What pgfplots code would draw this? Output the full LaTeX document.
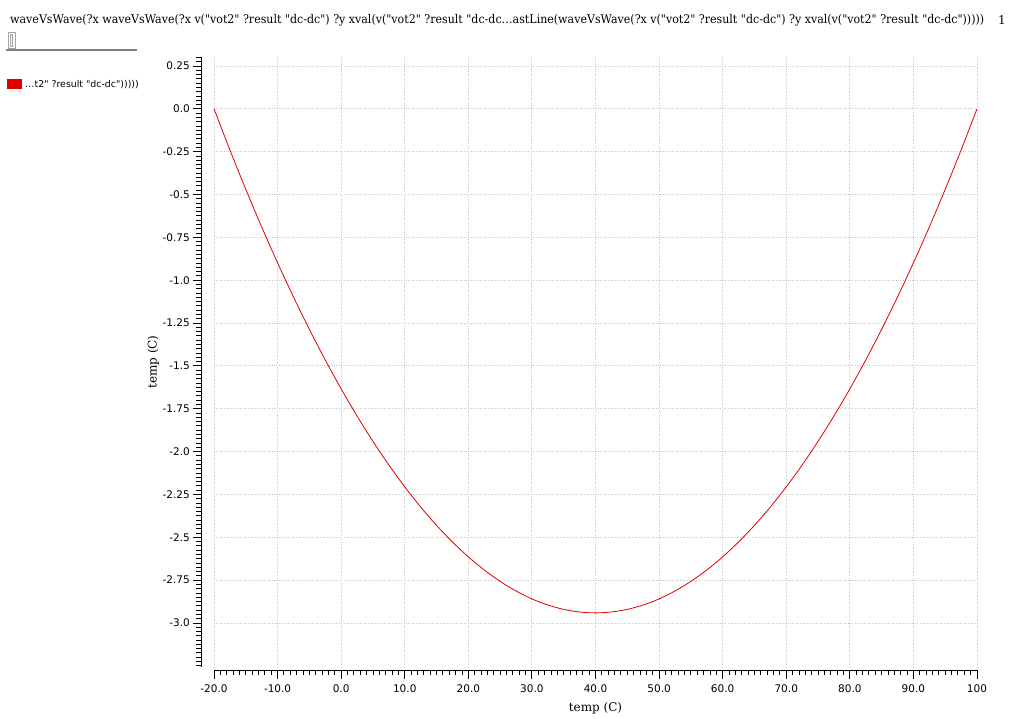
\documentclass[border=0pt]{standalone}
\usepackage{pgfplots}
\pgfplotsset{compat=1.18}
\usepackage{fontspec}
\setmainfont{DejaVu Serif}
\newfontfamily\serifplain{DejaVu Serif}
\newfontfamily\ticksans{DejaVu Sans}
\definecolor{curvered}{RGB}{225,0,0}
\definecolor{gridgray}{RGB}{200,200,200}
\begin{document}
\begin{tikzpicture}[x=1pt,y=1pt]
\useasboundingbox (0,0) rectangle (1009,719);
% title
\node[anchor=west,inner sep=0pt,font=\serifplain\fontsize{12}{14}\selectfont] at (10,699) {\resizebox{974pt}{\height}{waveVsWave(?x waveVsWave(?x v("vot2" ?result "dc-dc") ?y xval(v("vot2" ?result "dc-dc…astLine(waveVsWave(?x v("vot2" ?result "dc-dc") ?y xval(v("vot2" ?result "dc-dc")))))}};
\node[anchor=center,inner sep=0pt,font=\serifplain\fontsize{12}{14}\selectfont] at (1002,699) {1};
% small widget and separator
\draw[gray!70,line width=0.8pt] (8,671) rectangle (15,687);
\draw[gray!70,line width=0.6pt] (10.5,673) rectangle (12.5,685);
\draw[gray,line width=1.6pt] (6,669) -- (137,669);
% legend
\fill[curvered] (7,630) rectangle (22,640);
\node[anchor=west,inner sep=0pt,font=\ticksans\fontsize{9.4}{11}\selectfont] at (25,634.5) {…t2" ?result "dc-dc")))))};
% main axis with grid and data
\begin{axis}[
  at={(214pt,52pt)}, anchor=south west,
  scale only axis, width=763pt, height=610pt,
  xmin=-20, xmax=100, ymin=-3.257, ymax=0.3025,
  xtick={-20,-10,...,100},
  ytick={-3,-2.75,-2.5,-2.25,-2,-1.75,-1.5,-1.25,-1,-0.75,-0.5,-0.25,0,0.25},
  xticklabels={}, yticklabels={},
  axis line style={draw=none}, tick style={draw=none},
  grid=major,
  grid style={dotted, gridgray, line width=0.9pt},
  clip=false,
]
\addplot[curvered, line width=0.8pt, smooth] coordinates {
(-20,0) (-17.5,-0.2400) (-15,-0.4698) (-12.5,-0.6893) (-10,-0.8987) (-7.5,-1.0978)
(-5,-1.2868) (-2.5,-1.4655) (0,-1.6340) (2.5,-1.7923) (5,-1.9404) (7.5,-2.0782)
(10,-2.2059) (12.5,-2.3233) (15,-2.4306) (17.5,-2.5276) (20,-2.6144) (22.5,-2.6910)
(25,-2.7574) (27.5,-2.8135) (30,-2.8595) (32.5,-2.8952) (35,-2.9208) (37.5,-2.9361)
(40,-2.9412) (42.5,-2.9361) (45,-2.9208) (47.5,-2.8952) (50,-2.8595) (52.5,-2.8135)
(55,-2.7574) (57.5,-2.6910) (60,-2.6144) (62.5,-2.5276) (65,-2.4306) (67.5,-2.3233)
(70,-2.2059) (72.5,-2.0782) (75,-1.9404) (77.5,-1.7923) (80,-1.6340) (82.5,-1.4655)
(85,-1.2868) (87.5,-1.0978) (90,-0.8987) (92.5,-0.6893) (95,-0.4698) (97.5,-0.2400)
(100,0)};
\end{axis}
% y spine
\begin{axis}[
  at={(201pt,52pt)}, anchor=south west,
  scale only axis, width=1pt, height=610pt,
  xmin=0, xmax=1, ymin=-3.257, ymax=0.3025,
  axis x line=none, axis y line=left,
  axis line style={-, black, line width=0.9pt},
  tick align=outside,
  ytick={-3,-2.75,-2.5,-2.25,-2,-1.75,-1.5,-1.25,-1,-0.75,-0.5,-0.25,0,0.25},
  yticklabels={-3.0,-2.75,-2.5,-2.25,-2.0,-1.75,-1.5,-1.25,-1.0,-0.75,-0.5,-0.25,0.0,0.25},
  minor ytick={-3.25,-3.225,...,0.30},
  major tick length=8pt, minor tick length=5pt,
  tick style={black, line width=0.9pt},
  yticklabel style={font=\ticksans\fontsize{10.5}{12}\selectfont, inner sep=0pt, xshift=-3pt},
  ylabel={temp (C)},
  ylabel style={font=\serifplain\fontsize{12}{14}\selectfont},
]
\end{axis}
% x spine
\begin{axis}[
  at={(214pt,49pt)}, anchor=south west,
  scale only axis, width=763pt, height=1pt,
  xmin=-20, xmax=100, ymin=0, ymax=1,
  axis y line=none, axis x line=bottom,
  axis line style={-, black, line width=0.9pt},
  tick align=outside,
  xtick={-20,-10,...,100},
  xticklabels={-20.0,-10.0,0.0,10.0,20.0,30.0,40.0,50.0,60.0,70.0,80.0,90.0,100},
  minor x tick num=9,
  major tick length=9pt, minor tick length=5pt,
  tick style={black, line width=0.9pt},
  xticklabel style={font=\ticksans\fontsize{10.5}{12}\selectfont, inner sep=0pt, yshift=-6pt},
  xlabel={temp (C)},
  xlabel style={font=\serifplain\fontsize{12}{14}\selectfont, yshift=-6pt},
]
\end{axis}
\end{tikzpicture}
\end{document}
